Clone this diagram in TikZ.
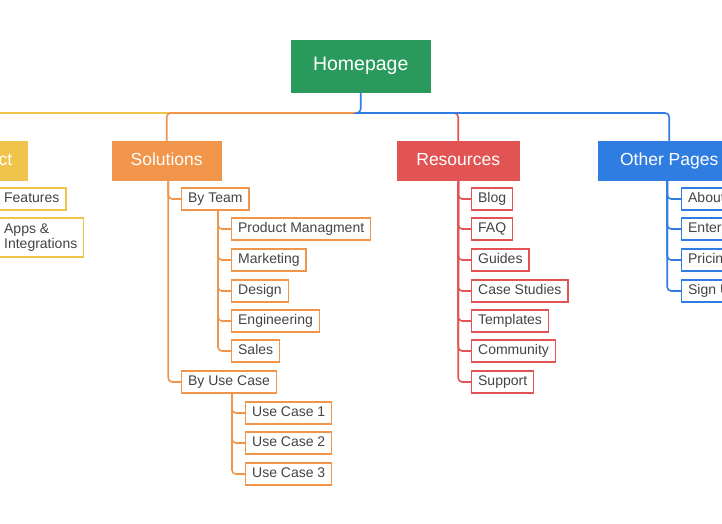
\documentclass[tikz,border=0pt]{standalone}
\usepackage{fontspec}
\setmainfont{Liberation Sans}
\usetikzlibrary{calc}
\definecolor{cgreen}{HTML}{2A9A5C}
\definecolor{cyel}{HTML}{F0C44A}
\definecolor{cora}{HTML}{F0954A}
\definecolor{cred}{HTML}{E25454}
\definecolor{cblue}{HTML}{2F7DE1}
\definecolor{ctxt}{HTML}{444444}
\begin{document}
\begin{tikzpicture}[x=1pt,y=-1pt,
  hdr/.style={fill=#1,draw=#1,text=white,font=\fontsize{17.5}{20}\selectfont,minimum height=39,inner xsep=8,anchor=west,text height=12.5,text depth=3.5},
  item/.style={draw=#1,fill=white,line width=1.3,text=ctxt,font=\fontsize{14}{15.5}\selectfont,minimum height=22,inner xsep=6.5,anchor=west,align=left},
  one/.style={text height=10,text depth=3},
  con/.style={draw=#1,line width=1.6,rounded corners=4}]
\useasboundingbox (0,0) rectangle (722,524);
\clip (0,0) rectangle (722,524);
% headers
\node[hdr=cgreen,minimum width=139,minimum height=52,font=\fontsize{19.5}{22}\selectfont] (home) at (291,66) {Homepage};
\node[hdr=cyel,minimum width=90] (prod) at (-63,160.5) {Product};
\node[hdr=cora,minimum width=109] (sol) at (112,160.5) {Solutions};
\node[hdr=cred,minimum width=122] (res) at (397,160.5) {Resources};
\node[hdr=cblue,minimum width=142] (oth) at (598,160.5) {Other Pages};
% top connectors
\coordinate (hb) at (360,113);
\draw[con=cyel] (170,113) -| (prod.north);
\draw[con=cora] (hb) -| (sol.north);
\draw[con=cred] (hb) -| (res.north);
\draw[con=cblue] (home.south) |- (hb) -| (oth.north);
% product
\node[item=cyel,one] (feat) at (-3,199) {Features};
\node[item=cyel,minimum height=39] (apps) at (-3,237.5) {Apps \&\\Integrations};
\foreach \c in {feat,apps} \draw[con=cyel] ($(prod.south)+(-8,0)$) |- (\c.west);
% solutions
\node[item=cora,one] (bt) at (181,199) {By Team};
\node[item=cora,one] (buc) at (181,382) {By Use Case};
\foreach \c in {bt,buc} \draw[con=cora] ($(sol.south)+(1.5,0)$) |- (\c.west);
\node[item=cora,one] (pm) at (231,229) {Product Managment};
\node[item=cora,one] (mk) at (231,260) {Marketing};
\node[item=cora,one] (ds) at (231,291) {Design};
\node[item=cora,one] (en) at (231,321) {Engineering};
\node[item=cora,one] (sa) at (231,351) {Sales};
\foreach \c in {pm,mk,ds,en,sa} \draw[con=cora] ($(bt.south west)+(37,0)$) |- (\c.west);
\node[item=cora,one] (u1) at (245,413) {Use Case 1};
\node[item=cora,one] (u2) at (245,443) {Use Case 2};
\node[item=cora,one] (u3) at (245,474) {Use Case 3};
\foreach \c in {u1,u2,u3} \draw[con=cora] ($(buc.south west)+(51,0)$) |- (\c.west);
% resources
\node[item=cred,one] (r1) at (471,199) {Blog};
\node[item=cred,one] (r2) at (471,229) {FAQ};
\node[item=cred,one] (r3) at (471,260) {Guides};
\node[item=cred,one] (r4) at (471,291) {Case Studies};
\node[item=cred,one] (r5) at (471,321) {Templates};
\node[item=cred,one] (r6) at (471,351) {Community};
\node[item=cred,one] (r7) at (471,382) {Support};
\foreach \c in {r1,r2,r3,r4,r5,r6,r7} \draw[con=cred] (res.south) |- (\c.west);
% other
\node[item=cblue,one] (o1) at (681,199) {About};
\node[item=cblue,one] (o2) at (681,229) {Enterprise};
\node[item=cblue,one] (o3) at (681,260) {Pricing};
\node[item=cblue,one] (o4) at (681,291) {Sign Up};
\foreach \c in {o1,o2,o3,o4} \draw[con=cblue] ($(oth.south)+(-2,0)$) |- (\c.west);
\end{tikzpicture}
\end{document}
